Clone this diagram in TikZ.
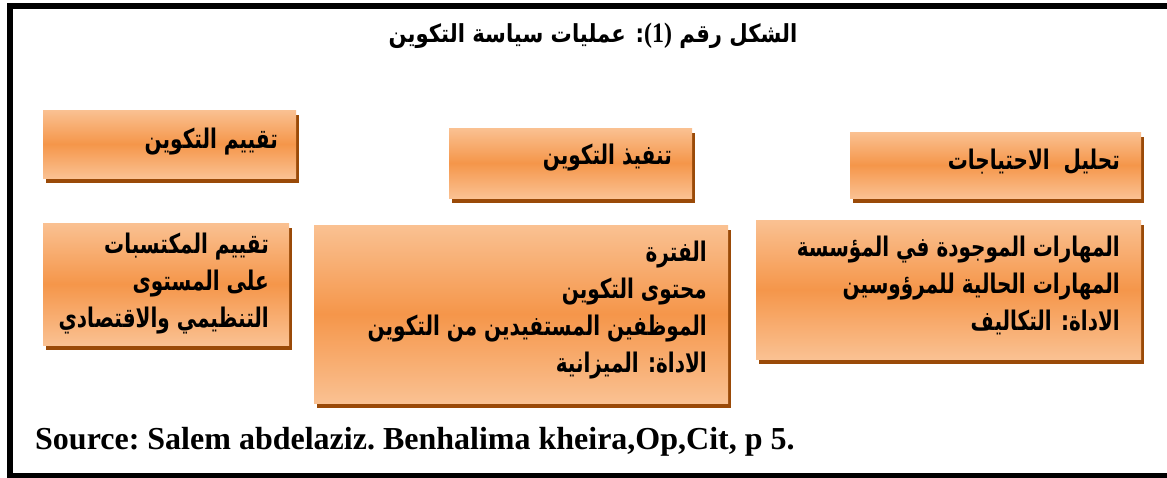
\documentclass[tikz,border=0pt]{standalone}
\usepackage{graphicx}
\usepackage{fontspec}
\setmainfont{Liberation Serif}
\newfontfamily\arabicfont[Script=Arabic]{DejaVu Sans}
\TeXXeTstate=1
\usetikzlibrary{shadows}
\definecolor{olight}{HTML}{FAC192}
\definecolor{omid}{HTML}{F5964A}
\definecolor{oshadow}{HTML}{9A4A08}
\newcommand{\ar}[1]{{\arabicfont\bfseries\beginR #1\endR}}
\newcommand{\arx}[1]{\scalebox{0.8}[1.08]{\ar{#1}}}
\tikzset{
  obox/.style={draw=none, inner sep=0pt, top color=olight, bottom color=olight, middle color=omid,
    drop shadow={shadow xshift=3pt, shadow yshift=-5pt, opacity=1, fill=oshadow}},
  otext/.style={inner sep=0pt, anchor=east, align=right, font=\fontsize{25}{37}\selectfont},
  frame/.style={draw=black, line width=6pt}
}
\begin{document}
\begin{tikzpicture}[x=1pt,y=-1pt]
\useasboundingbox (0,0) rectangle (1167,477);
\fill[white] (0,0) rectangle (1167,477);
\draw[frame] (10,6) rectangle (1180,475.5);
\node[inner sep=0pt, font=\fontsize{23}{26}\selectfont] (title) at (593,36)
  {\scalebox{0.92}[1.08]{\ar{الشكل رقم \beginL{\rmfamily\bfseries\fontsize{26}{26}\selectfont(1)}\endL: عمليات سياسة التكوين}}};
% boxes
\node[obox, minimum width=253pt, minimum height=68pt] (b1) at (169.5,144) {};
\node[obox, minimum width=243pt, minimum height=70pt] (b2) at (570.5,163) {};
\node[obox, minimum width=291pt, minimum height=66pt] (b3) at (995.5,165) {};
\node[obox, minimum width=385pt, minimum height=139pt] (b4) at (948.5,289.5) {};
\node[obox, minimum width=414pt, minimum height=178pt] (b5) at (521,314) {};
\node[obox, minimum width=246pt, minimum height=122pt] (b6) at (166,284) {};
% texts
\node[otext] (t1) at (278,142) {\arx{تقييم التكوين}};
\node[otext] (t2) at (672,158) {\arx{تنفيذ التكوين}};
\node[otext] (t3) at (1120,162) {\arx{تحليل\ \ الاحتياجات}};
\node[otext] (t4) at (1120,285) {\arx{المهارات الموجودة في المؤسسة}\\\arx{المهارات الحالية للمرؤوسين}\\\arx{الاداة: التكاليف}};
\node[otext] (t5) at (707,310) {\arx{الفترة}\\\arx{محتوى التكوين}\\\arx{الموظفين المستفيدين من التكوين}\\\arx{الاداة: الميزانية}};
\node[otext] (t6) at (269,284) {\arx{تقييم المكتسبات}\\\arx{على المستوى}\\\arx{التنظيمي والاقتصادي}};
\node[inner sep=0pt, anchor=west, font=\fontsize{32}{34}\selectfont\bfseries\frenchspacing] (src) at (35,442)
  {Source: Salem abdelaziz. Benhalima kheira,Op,Cit, p 5.};
\end{tikzpicture}
\end{document}
